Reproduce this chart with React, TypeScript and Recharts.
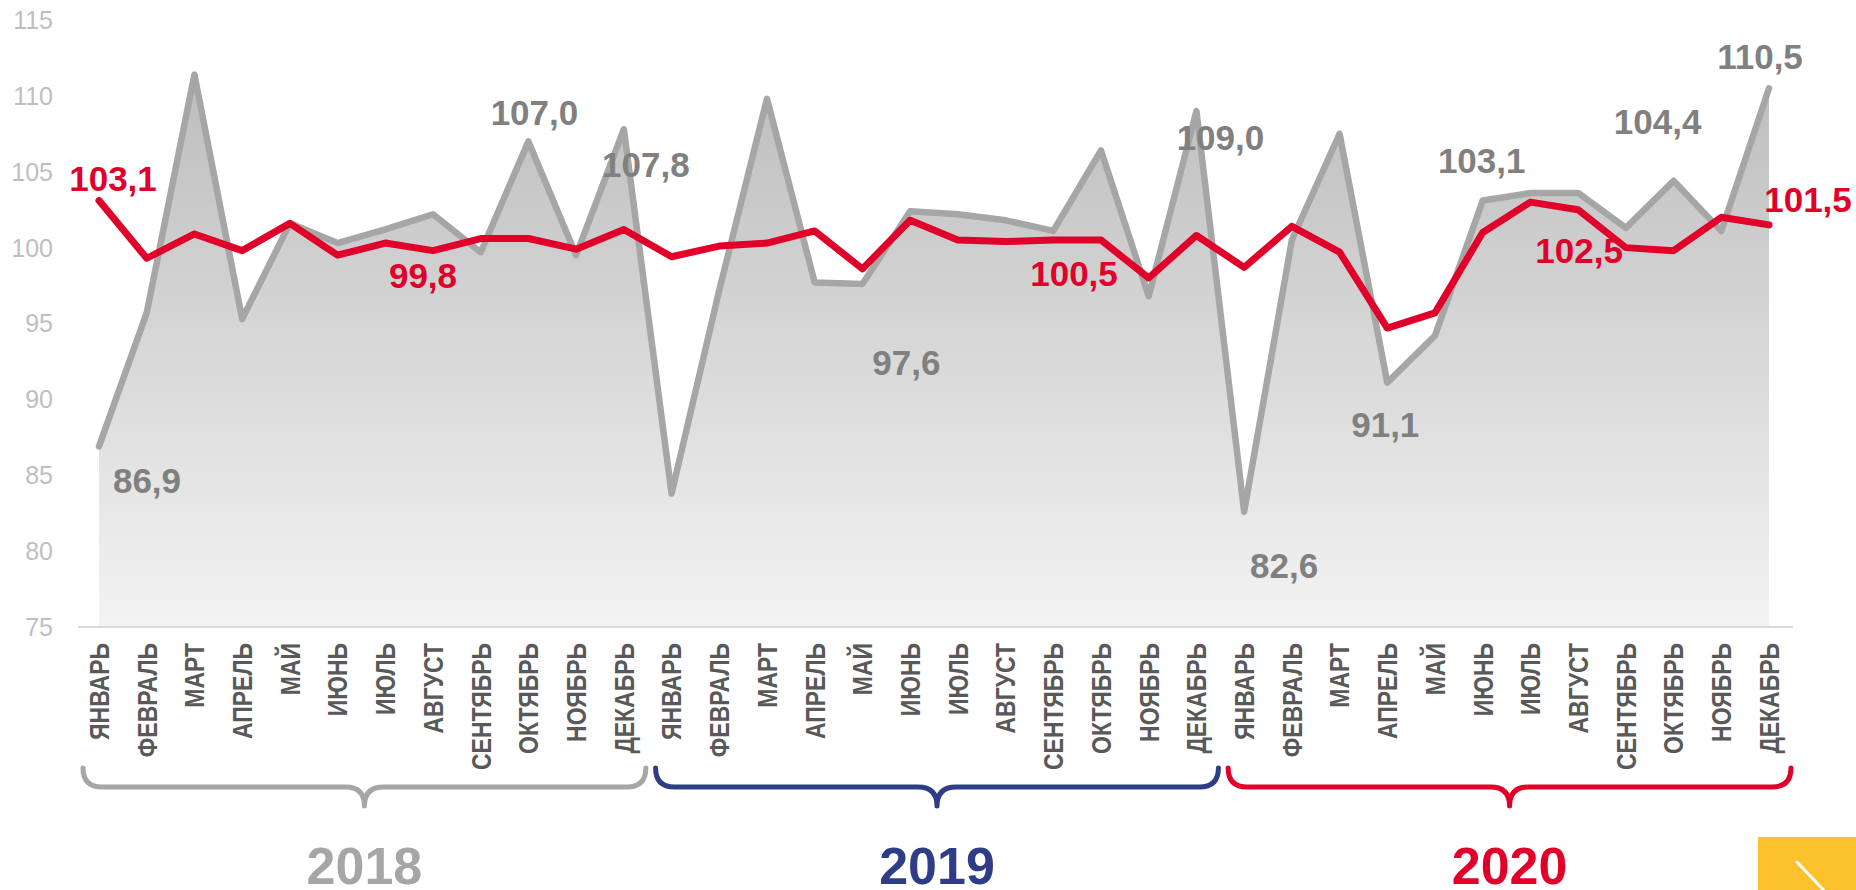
import { ComposedChart, Area, Line, XAxis, YAxis, LabelList } from "recharts";

const MONTHS = [
  "ЯНВАРЬ", "ФЕВРАЛЬ", "МАРТ", "АПРЕЛЬ", "МАЙ", "ИЮНЬ",
  "ИЮЛЬ", "АВГУСТ", "СЕНТЯБРЬ", "ОКТЯБРЬ", "НОЯБРЬ", "ДЕКАБРЬ",
];
const YEARS = ["2018", "2019", "2020"];
const YEAR_COLORS = ["#a6a6a6", "#2e3d86", "#e0002a"];

// gray series (month to month, shaded area)
const GRAY = [
  86.9, 95.7, 111.4, 95.3, 101.6, 100.3, 101.2, 102.2, 99.7, 107.0, 99.5, 107.8,
  83.8, 97.2, 109.8, 97.7, 97.6, 102.4, 102.2, 101.8, 101.1, 106.4, 96.8, 109.0,
  82.6, 100.5, 107.5, 91.1, 94.2, 103.1, 103.6, 103.6, 101.3, 104.4, 101.1, 110.5,
];
// red series
const RED = [
  103.1, 99.3, 100.9, 99.8, 101.6, 99.5, 100.3, 99.8, 100.6, 100.6, 99.9, 101.2,
  99.4, 100.1, 100.3, 101.1, 98.6, 101.8, 100.5, 100.4, 100.5, 100.5, 98.0, 100.8,
  98.7, 101.4, 99.7, 94.7, 95.7, 101.0, 103.0, 102.5, 100.0, 99.8, 102.0, 101.5,
];
const Y_TICKS = [75, 80, 85, 90, 95, 100, 105, 110, 115];

// which points carry a value label, and where the label sits relative to the point
const GRAY_LABELS: Record<number, [number, number]> = {
  0: [48, 34], 9: [6, -29], 11: [22, 35], 16: [44, 78], 23: [24, 26],
  24: [40, 54], 27: [-2, 42], 29: [-1, -40], 33: [-16, -59], 35: [-9, -32],
};
const RED_LABELS: Record<number, [number, number]> = {
  0: [14, -22], 7: [-10, 25], 21: [-27, 33], 31: [1, 41], 35: [39, -25],
};

const data = GRAY.map((g, i) => ({ idx: i, gray: g, red: RED[i] }));

const W = 1856;
const H = 890;
const PLOT_LEFT = 78;
const PLOT_RIGHT = 1793;
const PAD_L = 21;
const PAD_R = 24;
const STEP = (PLOT_RIGHT - PAD_R - (PLOT_LEFT + PAD_L)) / (data.length - 1);
const px = (i: number) => PLOT_LEFT + PAD_L + i * STEP;

const FONT = "'Liberation Sans', Arial, sans-serif";

const fmt = (v: number) => v.toFixed(1).replace(".", ",");

const makeLabel =
  (specs: Record<number, [number, number]>, color: string) => (props: any) => {
    const { x, y, value, index } = props;
    const s = specs[index];
    if (!s) return null;
    return (
      <text
        x={x + s[0]}
        y={y + s[1]}
        fill={color}
        fontSize={35}
        fontWeight="bold"
        fontFamily={FONT}
        textAnchor="middle"
        dominantBaseline="central"
      >
        {fmt(value)}
      </text>
    );
  };

const MonthTick = (props: any) => {
  const { x, y, payload } = props;
  return (
    <g transform={`translate(${x},${y}) rotate(-90) scale(0.82,1)`}>
      <text
        x={0}
        y={0}
        fill="#595959"
        fontSize={28}
        fontWeight="bold"
        fontFamily={FONT}
        textAnchor="end"
        dominantBaseline="central"
      >
        {MONTHS[payload.value % 12]}
      </text>
    </g>
  );
};

const brace = (a: number, b: number) => {
  const m = (a + b) / 2;
  const y0 = 768, y1 = 787, y2 = 806, r = 19;
  return `M ${a} ${y0} Q ${a} ${y1} ${a + r} ${y1} L ${m - r} ${y1} Q ${m} ${y1} ${m} ${y2} Q ${m} ${y1} ${m + r} ${y1} L ${b - r} ${y1} Q ${b} ${y1} ${b} ${y0}`;
};

export default function App() {
  return (
    <div
      style={{
        position: "absolute",
        left: 0,
        top: 0,
        width: W,
        height: H,
        overflow: "hidden",
        background: "#fff",
      }}
    >
      <ComposedChart
        width={W}
        height={H}
        data={data}
        margin={{ top: 20, right: W - PLOT_RIGHT, bottom: 0, left: 0 }}
      >
        <defs>
          <linearGradient id="grayFill" x1="0" y1="0" x2="0" y2="1">
            <stop offset="0%" stopColor="#bdbdbd" />
            <stop offset="100%" stopColor="#f3f3f3" />
          </linearGradient>
        </defs>
        <XAxis
          dataKey="idx"
          type="category"
          interval={0}
          height={263}
          padding={{ left: PAD_L, right: PAD_R }}
          axisLine={{ stroke: "#d9d9d9", strokeWidth: 2 }}
          tickLine={false}
          tickSize={0}
          tickMargin={16}
          tick={<MonthTick />}
        />
        <YAxis
          width={PLOT_LEFT}
          domain={[75, 115]}
          ticks={Y_TICKS}
          interval={0}
          axisLine={false}
          tickLine={false}
          tickSize={0}
          tickMargin={25}
          tick={{ fill: "#bfbfbf", fontSize: 25, fontFamily: FONT }}
        />
        <Area
          type="linear"
          dataKey="gray"
          stroke="#a6a6a6"
          strokeWidth={6.5}
          strokeLinejoin="round"
          strokeLinecap="round"
          fill="url(#grayFill)"
          fillOpacity={1}
          dot={false}
          activeDot={false}
          isAnimationActive={false}
        >
          <LabelList dataKey="gray" content={makeLabel(GRAY_LABELS, "#808080")} />
        </Area>
        <Line
          type="linear"
          dataKey="red"
          stroke="#e0002a"
          strokeWidth={7}
          strokeLinejoin="round"
          strokeLinecap="round"
          dot={false}
          activeDot={false}
          isAnimationActive={false}
        >
          <LabelList dataKey="red" content={makeLabel(RED_LABELS, "#e0002a")} />
        </Line>
      </ComposedChart>
      <svg
        width={W}
        height={H}
        style={{ position: "absolute", left: 0, top: 0, pointerEvents: "none" }}
      >
        {YEARS.map((yr, k) => {
          const a = px(k * 12) - 16;
          const b = px(k * 12 + 11) + 22;
          return (
            <g key={yr}>
              <path
                d={brace(a, b)}
                fill="none"
                stroke={YEAR_COLORS[k]}
                strokeWidth={5}
                strokeLinecap="round"
                strokeLinejoin="round"
              />
              <text
                x={(a + b) / 2}
                y={884}
                fill={YEAR_COLORS[k]}
                fontSize={52}
                fontWeight="bold"
                fontFamily={FONT}
                textAnchor="middle"
              >
                {yr}
              </text>
            </g>
          );
        })}
        <rect x={1758} y={837} width={98} height={53} fill="#fcc22d" />
        <line x1={1797} y1={862} x2={1830} y2={897} stroke="#fff" strokeWidth={3} strokeLinecap="round" />
      </svg>
    </div>
  );
}
